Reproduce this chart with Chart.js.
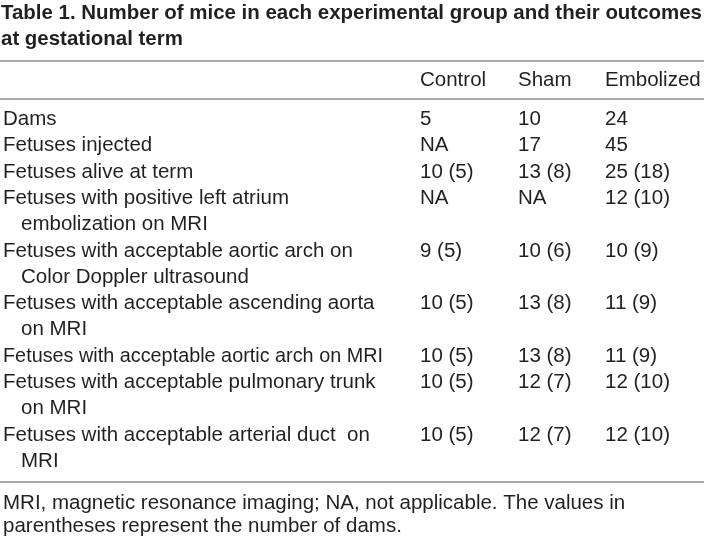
<!DOCTYPE html>
<html>
<head>
<meta charset="utf-8">
<script src="https://cdn.jsdelivr.net/npm/chart.js@4.4.1/dist/chart.umd.min.js"></script>
<style>
  html, body { margin: 0; padding: 0; background: #ffffff; }
  #wrap { width: 704px; height: 538px; }
</style>
</head>
<body>
<div id="wrap"><canvas id="tableChart" width="704" height="538"></canvas></div>
<script>
// table content
const titleLines = [
    'Table 1. Number of mice in each experimental group and their outcomes',
    'at gestational term'
];
const groups = ['Control', 'Sham', 'Embolized'];
const rowLabels = [
    ['Dams'],
    ['Fetuses injected'],
    ['Fetuses alive at term'],
    ['Fetuses with positive left atrium', 'embolization on MRI'],
    ['Fetuses with acceptable aortic arch on', 'Color Doppler ultrasound'],
    ['Fetuses with acceptable ascending aorta', 'on MRI'],
    ['Fetuses with acceptable aortic arch on MRI'],
    ['Fetuses with acceptable pulmonary trunk', 'on MRI'],
    ['Fetuses with acceptable arterial duct  on', 'MRI']
];
// fetus counts (null = NA) and number of dams in parentheses
const controlCounts = [5, null, 10, null, 9, 10, 10, 10, 10];
const controlDams = [null, null, 5, null, 5, 5, 5, 5, 5];
const shamCounts = [10, 17, 13, null, 10, 13, 13, 12, 12];
const shamDams = [null, null, 8, null, 6, 8, 8, 7, 7];
const embolizedCounts = [24, 45, 25, 12, 10, 11, 11, 12, 12];
const embolizedDams = [null, null, 18, 10, 9, 9, 9, 10, 10];
const footnoteLines = [
    'MRI, magnetic resonance imaging; NA, not applicable. The values in',
    'parentheses represent the number of dams.'
];

// layout (pixels)
const TEXT_COLOR = '#231f20';
const RULE_COLOR = '#8c8c8c';
const BODY_FONT = '20.5px "Liberation Sans", Arial, sans-serif';
const TITLE_FONT = 'bold 21px "Liberation Sans", Arial, sans-serif';
const labelX = 3;
const indentX = 21;
const labelMaxRight = 383;
const columnX = [420, 518, 605];
const firstBaseline = 125;
const lineHeight = 26.3;
const headerBaseline = 86;
const titleBaselines = [19, 45];
const ruleYs = [61, 99, 482];
const footnoteBaselines = [509, 532];

function cellText(count, dams) {
    if (count === null) return 'NA';
    return dams === null ? String(count) : count + ' (' + dams + ')';
}

// line index where each row starts
const rowStart = [];
let lineIndex = 0;
rowLabels.forEach(function (lines) {
    rowStart.push(lineIndex);
    lineIndex += lines.length;
});

function rowY(i) {
    return firstBaseline + rowStart[i] * lineHeight;
}

const groupData = [
    [controlCounts, controlDams],
    [shamCounts, shamDams],
    [embolizedCounts, embolizedDams]
];

const datasets = [{
    label: 'rows',
    data: rowLabels.map(function (lines, i) {
        return { x: labelX, y: rowY(i), lines: lines };
    }),
    pointRadius: 0
}];
groups.forEach(function (group, g) {
    datasets.push({
        label: group,
        data: groupData[g][0].map(function (count, i) {
            return { x: columnX[g], y: rowY(i), text: cellText(count, groupData[g][1][i]) };
        }),
        pointRadius: 0
    });
});

const tablePlugin = {
    id: 'tableText',
    afterDatasetsDraw: function (chart) {
        const ctx = chart.ctx;
        const xs = chart.scales.x;
        const ys = chart.scales.y;
        ctx.save();
        ctx.fillStyle = TEXT_COLOR;
        ctx.textBaseline = 'alphabetic';
        ctx.textAlign = 'left';

        // title, squeezed to the page width
        ctx.font = TITLE_FONT;
        const squeeze = Math.min(1, (xs.getPixelForValue(702) - xs.getPixelForValue(1)) / ctx.measureText(titleLines[0]).width);
        titleLines.forEach(function (line, i) {
            ctx.save();
            ctx.translate(xs.getPixelForValue(1), ys.getPixelForValue(titleBaselines[i]));
            ctx.scale(squeeze, 1);
            ctx.fillText(line, 0, 0);
            ctx.restore();
        });

        // rules
        ctx.strokeStyle = RULE_COLOR;
        ctx.lineWidth = 1.5;
        ruleYs.forEach(function (ry) {
            const py = ys.getPixelForValue(ry);
            ctx.beginPath();
            ctx.moveTo(xs.getPixelForValue(0), py);
            ctx.lineTo(xs.getPixelForValue(704), py);
            ctx.stroke();
        });

        ctx.font = BODY_FONT;
        // column headers
        groups.forEach(function (group, g) {
            ctx.fillText(group, xs.getPixelForValue(columnX[g]), ys.getPixelForValue(headerBaseline));
        });

        // row labels
        const labelMeta = chart.getDatasetMeta(0);
        labelMeta.data.forEach(function (pt, i) {
            const lines = chart.data.datasets[0].data[i].lines;
            lines.forEach(function (line, k) {
                const x = k === 0 ? pt.x : xs.getPixelForValue(indentX);
                const y = pt.y + ys.getPixelForValue(lineHeight * k) - ys.getPixelForValue(0);
                ctx.fillText(line, x, y, xs.getPixelForValue(labelMaxRight) - x);
            });
        });

        // cells
        for (let d = 1; d < chart.data.datasets.length; d++) {
            const meta = chart.getDatasetMeta(d);
            meta.data.forEach(function (pt, i) {
                ctx.fillText(chart.data.datasets[d].data[i].text, pt.x, pt.y);
            });
        }

        // footnote
        footnoteLines.forEach(function (line, i) {
            ctx.fillText(line, xs.getPixelForValue(labelX), ys.getPixelForValue(footnoteBaselines[i]));
        });
        ctx.restore();
    }
};

new Chart(document.getElementById('tableChart').getContext('2d'), {
    type: 'scatter',
    data: { datasets: datasets },
    options: {
        responsive: false,
        animation: false,
        layout: { padding: 0 },
        plugins: { legend: { display: false }, tooltip: { enabled: false } },
        scales: {
            x: { type: 'linear', min: 0, max: 704, display: false },
            y: { type: 'linear', min: 0, max: 538, reverse: true, display: false }
        }
    },
    plugins: [tablePlugin]
});
</script>
</body>
</html>
